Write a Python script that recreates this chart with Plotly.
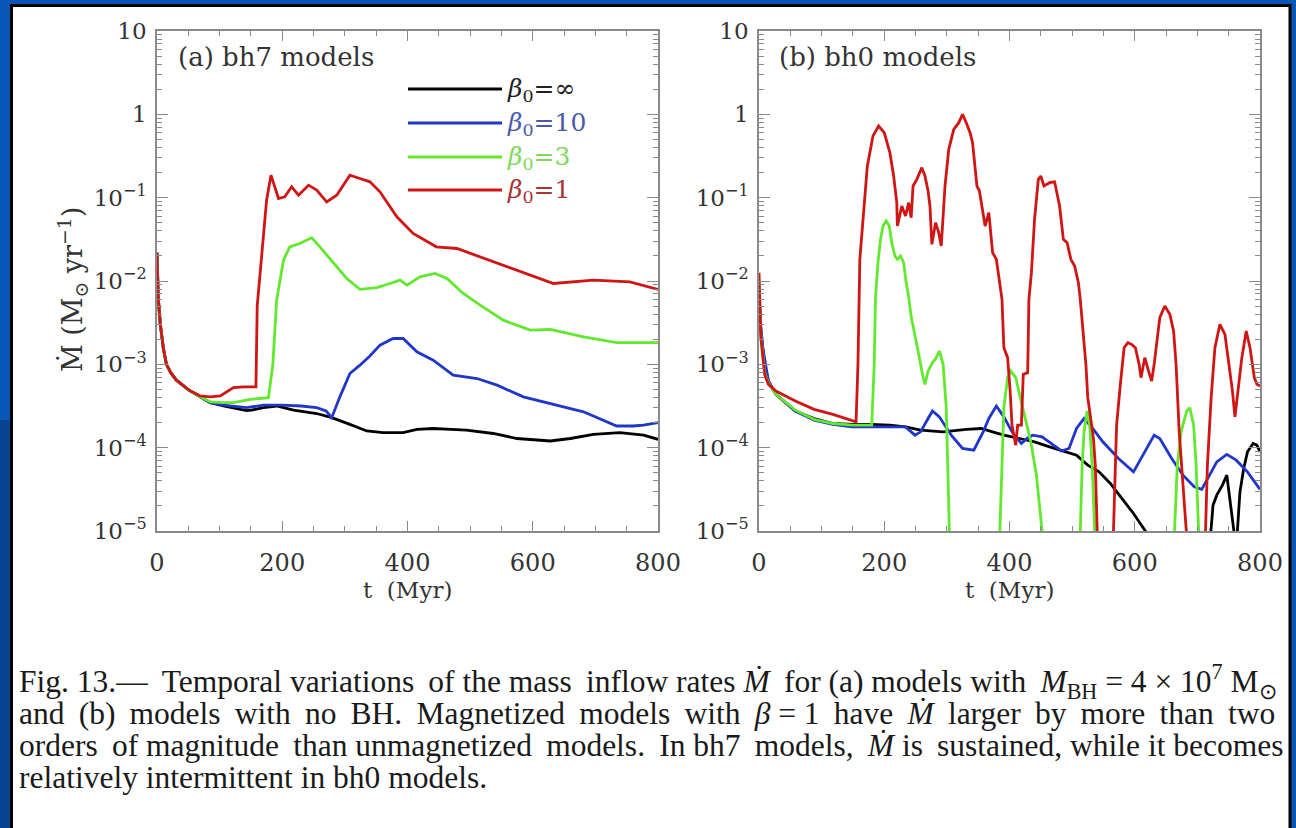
import numpy as np
import plotly.graph_objects as go

W, H = 1296, 828

# ---------------- data (t in Myr, log10 Mdot in Msun/yr) ----------------
A_BLACK = [(0,-1.66),(2,-2.2),(5,-2.5),(10,-2.8),(15,-3.0),(22,-3.1),(31,-3.19),(51,-3.31),(69,-3.39),
           (85,-3.46),(106,-3.50),(125,-3.53),(143,-3.556),(151,-3.55),(170,-3.52),(191,-3.50),(218,-3.55),
           (255,-3.59),(279,-3.64),(308,-3.72),(335,-3.80),(361,-3.82),(393,-3.82),(415,-3.78),(441,-3.77),
           (470,-3.78),(494,-3.79),(537,-3.83),(575,-3.89),(628,-3.92),(660,-3.89),(697,-3.84),(739,-3.82),
           (777,-3.85),(800,-3.90)]
A_BLUE = [(0,-1.66),(2,-2.2),(5,-2.5),(10,-2.8),(15,-3.0),(22,-3.1),(31,-3.19),(51,-3.31),(69,-3.39),
          (85,-3.46),(106,-3.49),(125,-3.51),(143,-3.52),(170,-3.49),(200,-3.49),(230,-3.50),(255,-3.52),
          (270,-3.56),(279,-3.64),(292,-3.39),(308,-3.11),(324,-3.01),(340,-2.90),(356,-2.77),(377,-2.69),
          (393,-2.69),(415,-2.85),(441,-2.95),(473,-3.13),(511,-3.17),(543,-3.25),(585,-3.39),(628,-3.47),
          (681,-3.57),(734,-3.74),(760,-3.74),(777,-3.73),(800,-3.70)]
A_GREEN = [(0,-1.66),(2,-2.2),(5,-2.5),(10,-2.8),(15,-3.0),(22,-3.1),(31,-3.19),(51,-3.31),(69,-3.39),
           (85,-3.45),(106,-3.46),(122,-3.46),(149,-3.42),(178,-3.40),(185,-3.0),(191,-2.23),(202,-1.75),
           (212,-1.59),(228,-1.55),(247,-1.48),(260,-1.59),(282,-1.79),(303,-1.97),(324,-2.10),(351,-2.08),
           (372,-2.03),(388,-1.99),(399,-2.05),(420,-1.95),(444,-1.91),(463,-1.97),(489,-2.15),(516,-2.29),
           (553,-2.47),(596,-2.59),(628,-2.58),(681,-2.67),(734,-2.74),(800,-2.74)]
A_RED = [(0,-1.66),(2,-2.2),(5,-2.5),(10,-2.8),(15,-3.0),(22,-3.1),(31,-3.19),(51,-3.31),(69,-3.38),
         (85,-3.39),(101,-3.38),(122,-3.28),(138,-3.27),(158,-3.27),(160,-2.3),(170,-1.39),(175,-1.03),
         (182,-0.73),(194,-1.01),(204,-0.99),(215,-0.87),(226,-0.97),(242,-0.85),(255,-0.91),(271,-1.05),
         (287,-0.97),(308,-0.73),(324,-0.77),(340,-0.81),(356,-0.93),(383,-1.23),(409,-1.43),(446,-1.59),
         (479,-1.61),(516,-1.71),(569,-1.85),(633,-2.03),(697,-1.99),(755,-2.01),(800,-2.10)]

B_BLACK = [(0,-2.2),(1,-2.4),(3,-2.6),(9,-3.0),(15,-3.2),(27,-3.36),(58,-3.56),(88,-3.65),(118,-3.71),
           (149,-3.72),(179,-3.72),(209,-3.73),(234,-3.75),(258,-3.79),(294,-3.81),(331,-3.78),(355,-3.77),
           (373,-3.81),(391,-3.85),(416,-3.89),(440,-3.93),(464,-3.99),(489,-4.05),(507,-4.09),(525,-4.21),
           (543,-4.29),(561,-4.43),(580,-4.61),(598,-4.79),(617,-5.0),(630,-5.6),(715,-5.6),(722,-5.0),
           (725,-4.69),(731,-4.57),(740,-4.45),(747,-4.33),(751,-4.57),(756,-4.85),(760,-5.1),(763,-5.1),
           (768,-4.53),(774,-4.25),(780,-4.05),(789,-3.95),(795,-3.97),(800,-4.05)]
B_BLUE = [(0,-2.1),(1,-2.3),(3,-2.55),(6,-2.80),(15,-3.2),(27,-3.36),(58,-3.56),(88,-3.67),(118,-3.72),
          (149,-3.75),(179,-3.75),(209,-3.75),(234,-3.75),(249,-3.85),(258,-3.81),(270,-3.65),(277,-3.56),
          (288,-3.63),(307,-3.85),(325,-4.01),(343,-4.03),(358,-3.81),(367,-3.65),(379,-3.50),(391,-3.63),
          (404,-3.81),(419,-3.95),(428,-3.89),(437,-3.85),(452,-3.87),(467,-3.95),(483,-4.04),(495,-4.01),
          (507,-3.77),(519,-3.65),(531,-3.75),(549,-3.93),(574,-4.13),(598,-4.29),(610,-4.13),(622,-3.97),
          (631,-3.85),(640,-3.89),(659,-4.13),(677,-4.33),(695,-4.47),(707,-4.50),(719,-4.33),(731,-4.17),
          (747,-4.08),(762,-4.15),(780,-4.29),(800,-4.50)]
B_GREEN = [(0,-2.0),(1,-2.3),(3,-2.65),(9,-3.1),(15,-3.22),(27,-3.36),(58,-3.55),(88,-3.66),(118,-3.71),
           (149,-3.73),(173,-3.73),(180,-3.73),(184,-3.0),(186,-2.2),(190,-1.78),(194,-1.50),(198,-1.34),
           (203,-1.28),(208,-1.34),(212,-1.54),(217,-1.70),(221,-1.74),(226,-1.70),(231,-1.78),(235,-2.02),
           (239,-2.19),(243,-2.43),(249,-2.68),(255,-2.88),(261,-3.12),(265,-3.24),(270,-3.08),(277,-2.98),
           (283,-2.92),(288,-2.84),(294,-3.0),(299,-3.52),(304,-5.0),(307,-5.6),(382,-5.6),(385,-5.0),
           (388,-4.21),(391,-3.52),(397,-3.16),(402,-3.08),(410,-3.16),(416,-3.36),(425,-3.65),(434,-3.93),
           (443,-4.33),(449,-4.77),(452,-5.0),(455,-5.6),(510,-5.6),(513,-5.0),(516,-4.21),(519,-3.81),
           (524,-3.56),(528,-3.73),(532,-4.21),(536,-5.0),(539,-5.6),(660,-5.6),(663,-5.0),(668,-4.21),
           (674,-3.81),(683,-3.56),(688,-3.52),(694,-3.73),(698,-4.21),(702,-5.0),(705,-5.6),(800,-5.6)]
B_RED = [(0,-1.9),(1,-2.3),(3,-2.68),(9,-3.12),(15,-3.24),(27,-3.32),(58,-3.44),(88,-3.54),(118,-3.60),
         (155,-3.69),(158,-3.0),(161,-1.74),(168,-1.02),(173,-0.62),(182,-0.26),(191,-0.14),(200,-0.22),
         (209,-0.46),(215,-0.74),(220,-1.06),(221,-1.34),(228,-1.10),(234,-1.22),(239,-1.06),(243,-1.24),
         (246,-0.86),(252,-0.78),(260,-0.64),(265,-0.74),(270,-0.92),(273,-1.10),(276,-1.56),(282,-1.30),
         (287,-1.42),(291,-1.58),(297,-0.86),(303,-0.42),(311,-0.18),(319,-0.10),(325,0.0),(331,-0.10),
         (337,-0.22),(341,-0.34),(348,-0.86),(352,-0.92),(358,-1.18),(361,-1.34),(367,-1.18),(373,-1.66),
         (379,-1.74),(385,-2.06),(388,-2.22),(391,-2.80),(397,-2.92),(401,-3.32),(404,-3.73),(410,-3.97),
         (413,-3.73),(419,-3.73),(422,-3.12),(429,-3.10),(431,-2.22),(435,-1.90),(440,-1.26),(446,-0.78),
         (450,-0.74),(455,-0.86),(464,-0.82),(472,-0.81),(480,-1.10),(486,-1.50),(492,-1.54),(498,-1.74),
         (504,-1.82),(510,-2.02),(513,-2.22),(522,-3.0),(525,-3.40),(528,-3.56),(534,-3.89),(537,-4.21),
         (540,-5.0),(545,-5.6),(563,-5.6),(566,-5.0),(568,-4.45),(571,-3.73),(577,-3.24),(583,-2.80),
         (589,-2.74),(595,-2.76),(601,-2.80),(607,-3.0),(610,-3.16),(616,-2.92),(622,-3.08),(627,-3.20),
         (631,-3.0),(640,-2.44),(648,-2.30),(656,-2.40),(662,-2.60),(666,-3.0),(671,-3.81),(677,-4.49),
         (682,-5.0),(688,-5.6),(708,-5.6),(713,-5.0),(716,-4.21),(722,-3.40),(728,-2.80),(736,-2.52),
         (744,-2.64),(751,-3.0),(756,-3.32),(760,-3.63),(765,-3.32),(771,-2.92),(778,-2.60),(784,-2.80),
         (791,-3.16),(795,-3.24),(800,-3.26)]

SERIES_NAMES = ["β0=∞", "β0=10", "β0=3", "β0=1"]
LEGEND_LABELS = ["<i>β</i><sub>0</sub>=∞", "<i>β</i><sub>0</sub>=10", "<i>β</i><sub>0</sub>=3", "<i>β</i><sub>0</sub>=1"]
LINE_COLORS = ["#000000", "#1f36c9", "#62e82e", "#d01515"]
TEXT_COLORS = ["#222222", "#4a5aa8", "#7ed85a", "#a83434"]
PANEL_A = [A_BLACK, A_BLUE, A_GREEN, A_RED]
PANEL_B = [B_BLACK, B_BLUE, B_GREEN, B_RED]

X_TICKS = [0, 200, 400, 600, 800]
Y_TICKS = [1e-5, 1e-4, 1e-3, 1e-2, 1e-1, 1, 10]
Y_TICKTEXT = ["10<sup>−5</sup>", "10<sup>−4</sup>", "10<sup>−3</sup>", "10<sup>−2</sup>",
              "10<sup>−1</sup>", "1", "10"]

S = " \u2009"   # normal space + thin space (to emulate justified caption lines)
CAPTION = [
    f"Fig. 13.—{S}Temporal variations{S}of the mass{S}inflow rates <i>Ṁ</i>{S}for (a) models with{S}<i>M</i><sub>BH</sub> = 4 × 10<sup>7</sup> M<sub>⊙</sub>",
    f"and{S}(b){S}models{S}with{S}no{S}BH.{S}Magnetized{S}models{S}with{S}<i>β</i> = 1{S}have{S}<i>Ṁ</i>{S}larger{S}by{S}more{S}than{S}two",
    f"orders{S}of magnitude{S}than unmagnetized{S}models.{S}In bh7{S}models,{S}<i>Ṁ</i> is{S}sustained, while it becomes",
    "relatively intermittent in bh0 models.",
]

# ---------------- layout helpers ----------------
def px_x(p): return p / W
def px_y(p): return 1 - p / H

AX_L_A, AX_R_A = 157, 658
AX_L_B, AX_R_B = 759, 1260
AX_T, AX_B = 31, 531

FONT = "DejaVu Serif"
AXCOL = "#8a8a8a"
TXT = "#333333"
SLIDE_BLUE = "#0a56b6"

fig = go.Figure()

for panel, xa, ya in [(PANEL_A, "x", "y"), (PANEL_B, "x2", "y2")]:
    for pts, col, name in zip(panel, LINE_COLORS, SERIES_NAMES):
        t = np.array([p[0] for p in pts], dtype=float)
        v = 10.0 ** np.array([p[1] for p in pts], dtype=float)
        fig.add_trace(go.Scatter(x=t, y=v, mode="lines", name=name, showlegend=False,
                                 line=dict(color=col, width=2.8), xaxis=xa, yaxis=ya,
                                 cliponaxis=True))

minor_y = [k * 10.0 ** e for e in range(-5, 1) for k in range(2, 10)]

def xaxis_cfg(dom):
    return dict(domain=dom, range=[0, 800], showline=True, linecolor=AXCOL, linewidth=1.5,
                mirror="ticks", ticks="inside", ticklen=10, tickwidth=1.3, tickcolor=AXCOL,
                tickvals=X_TICKS, ticktext=[str(v) for v in X_TICKS],
                tickfont=dict(family=FONT, size=24, color=TXT), ticklabelstandoff=9,
                minor=dict(dtick=50, tick0=0, ticks="inside", ticklen=5, tickcolor=AXCOL, tickwidth=1.2,
                           showgrid=False),
                showgrid=False, zeroline=False, automargin=False, fixedrange=True)

def yaxis_cfg(anchor):
    return dict(domain=[px_y(AX_B), px_y(AX_T)], type="log", range=[-5, 1], anchor=anchor,
                showline=True, linecolor=AXCOL, linewidth=1.5, mirror="ticks",
                ticks="inside", ticklen=11, tickwidth=1.3, tickcolor=AXCOL,
                tickvals=Y_TICKS, ticktext=Y_TICKTEXT,
                tickfont=dict(family=FONT, size=23, color=TXT), ticklabelstandoff=4,
                minor=dict(tickvals=minor_y, ticks="inside", ticklen=5, tickcolor=AXCOL, tickwidth=1.1,
                           showgrid=False),
                showgrid=False, zeroline=False, automargin=False, fixedrange=True)

fig.update_layout(
    width=W, height=H, template="none",
    margin=dict(l=0, r=0, t=0, b=0),
    paper_bgcolor=SLIDE_BLUE, plot_bgcolor="white",
    showlegend=False,
    xaxis=dict(xaxis_cfg([px_x(AX_L_A), px_x(AX_R_A)]), anchor="y"),
    yaxis=yaxis_cfg("x"),
    xaxis2=dict(xaxis_cfg([px_x(AX_L_B), px_x(AX_R_B)]), anchor="y2"),
    yaxis2=yaxis_cfg("x2"),
)

shapes = []
shapes.append(dict(type="rect", xref="paper", yref="paper", x0=0, x1=px_x(14), y0=0, y1=px_y(420),
                   fillcolor="#05458f", line=dict(width=0), layer="below"))
shapes.append(dict(type="rect", xref="paper", yref="paper", x0=px_x(11.5), x1=px_x(1290),
                   y0=px_y(832), y1=px_y(5.5), fillcolor="white",
                   line=dict(color="black", width=3), layer="below"))

annotations = []
leg_y = [89, 123, 157, 190]
for ly, col, tcol, lab in zip(leg_y, LINE_COLORS, TEXT_COLORS, LEGEND_LABELS):
    shapes.append(dict(type="line", xref="paper", yref="paper", x0=px_x(408), x1=px_x(502),
                       y0=px_y(ly), y1=px_y(ly), line=dict(color=col, width=2.8)))
    annotations.append(dict(xref="paper", yref="paper", x=px_x(505), y=px_y(ly + 1), xanchor="left",
                            yanchor="middle", text=lab, showarrow=False,
                            font=dict(family=FONT, size=25, color=tcol)))

annotations.append(dict(xref="paper", yref="paper", x=px_x(176), y=px_y(57), xanchor="left",
                        yanchor="middle", text="(a) bh7 models", showarrow=False,
                        font=dict(family=FONT, size=26, color=TXT)))
annotations.append(dict(xref="paper", yref="paper", x=px_x(777), y=px_y(57), xanchor="left",
                        yanchor="middle", text="(b) bh0 models", showarrow=False,
                        font=dict(family=FONT, size=26, color=TXT)))
for cx in [(AX_L_A + AX_R_A) / 2, (AX_L_B + AX_R_B) / 2]:
    annotations.append(dict(xref="paper", yref="paper", x=px_x(cx), y=px_y(590), xanchor="center",
                            yanchor="middle", text="t  (Myr)", showarrow=False,
                            font=dict(family=FONT, size=23, color=TXT)))
annotations.append(dict(xref="paper", yref="paper", x=px_x(72), y=px_y(290), xanchor="center",
                        yanchor="middle", text="M\u0307 (M<sub>⊙</sub> yr<sup>−1</sup>)", textangle=-90,
                        showarrow=False, font=dict(family=FONT, size=27, color=TXT)))
for i, line in enumerate(CAPTION):
    annotations.append(dict(xref="paper", yref="paper", x=px_x(17), y=px_y(681 + 32 * i),
                            xanchor="left", yanchor="middle", text=line, showarrow=False,
                            font=dict(family="Liberation Serif", size=31.5, color="#1a1a1a")))

fig.update_layout(shapes=shapes, annotations=annotations)
fig.write_html("out.html", config={"displayModeBar": False},
               post_script=f"document.body.style.margin='0';document.body.style.background='{SLIDE_BLUE}';"
                           "document.body.style.overflow='hidden';")
